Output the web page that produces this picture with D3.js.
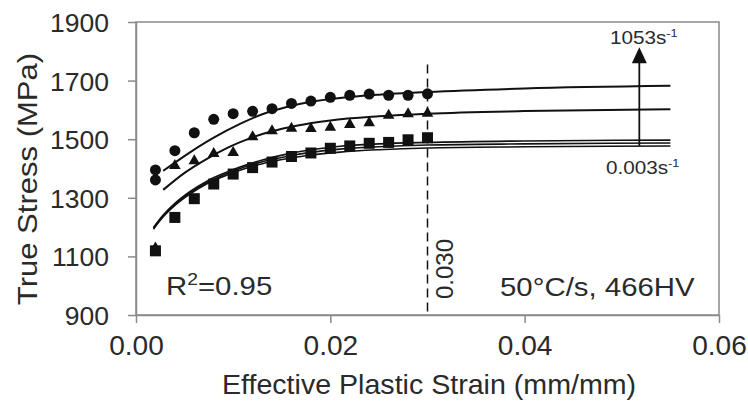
<!DOCTYPE html>
<html><head><meta charset="utf-8">
<script src="https://cdn.jsdelivr.net/npm/d3@7"></script>
<style>
html,body{margin:0;padding:0;background:#fff;}
svg text{font-family:"Liberation Sans",Arial,sans-serif;fill:#2a2a2a;}
</style></head>
<body><svg id="c" width="748" height="406"></svg>
<script>
// ---- data ----
const xTicks = [0, 0.02, 0.04, 0.06];
const xTickLabels = ["0.00", "0.02", "0.04", "0.06"];
const yTicks = [900, 1100, 1300, 1500, 1700, 1900];
const yTickLabels = ["900", "1100", "1300", "1500", "1700", "1900"];

const circleStrain = [0.002, 0.002, 0.004, 0.006, 0.008, 0.010, 0.012, 0.014, 0.016, 0.018, 0.020, 0.022, 0.024, 0.026, 0.028, 0.030];
const circleStress = [1395, 1361, 1461, 1522, 1568, 1587, 1595, 1604, 1622, 1630, 1643, 1650, 1654, 1650, 1650, 1655];

const triStrain = [0.004, 0.006, 0.008, 0.010, 0.012, 0.014, 0.016, 0.018, 0.020, 0.022, 0.024, 0.026, 0.028, 0.030];
const triStress = [1410, 1426, 1451, 1454, 1508, 1528, 1537, 1536, 1540, 1550, 1556, 1581, 1586, 1588];

const sqStrain = [0.002, 0.004, 0.006, 0.008, 0.010, 0.012, 0.014, 0.016, 0.018, 0.020, 0.022, 0.024, 0.026, 0.028, 0.030];
const sqStress = [1119, 1233, 1297, 1347, 1381, 1403, 1422, 1441, 1453, 1469, 1477, 1486, 1489, 1498, 1505];

const lowTriStrain = [0.002];
const lowTriStress = [1128];

const topFitStrain = [0.0028, 0.0056, 0.0080, 0.0107, 0.0130, 0.0155, 0.018, 0.021, 0.025, 0.030, 0.040, 0.055];
const topFitStress = [1392, 1456, 1505, 1552, 1585, 1610, 1628, 1641, 1652, 1661, 1673, 1682];
const midFitStrain = [0.0028, 0.0050, 0.0073, 0.0095, 0.0117, 0.0140, 0.0165, 0.020, 0.025, 0.030, 0.040, 0.055];
const midFitStress = [1327, 1385, 1433, 1472, 1503, 1527, 1546, 1564, 1578, 1587, 1596, 1602];
const lowFitStrain = [0.0018, 0.0028, 0.0040, 0.0055, 0.0073, 0.0090, 0.0107, 0.0130, 0.0155, 0.018, 0.021, 0.025, 0.030, 0.040, 0.055];
const lowFitAStress = [1199, 1241, 1281, 1320, 1357, 1383, 1405, 1429, 1449, 1464, 1476, 1484, 1489, 1494, 1497];
const lowFitBStress = [1196, 1238, 1278, 1316, 1352, 1378, 1400, 1423, 1441, 1455, 1466, 1474, 1480, 1484, 1487];
const lowFitCStress = [1193, 1235, 1274, 1312, 1348, 1373, 1394, 1416, 1433, 1446, 1456, 1464, 1470, 1474, 1477];

const arrowStrain = 0.0518;
const arrowFrom = 1477, arrowTo = 1814;
const refStrain = 0.030, refTop = 1755;

// ---- layout ----
const W = 748, H = 406;
const m = {left: 136, right: 29, top: 22, bottom: 91};
const svg = d3.select("#c");
const x = d3.scaleLinear().domain([0, 0.06]).range([m.left, W - m.right]);
const y = d3.scaleLinear().domain([900, 1900]).range([H - m.bottom, m.top]);
const SX = 1.13; // horizontal text stretch for annotations
const frameCol = "#8a8a8a";

// frame
svg.append("rect").attr("x", x(0)).attr("y", y(1900))
  .attr("width", x(0.06) - x(0)).attr("height", y(900) - y(1900))
  .attr("fill", "none").attr("stroke", frameCol).attr("stroke-width", 1.5);

// axes
const xAxis = svg.append("g").attr("transform", `translate(0,${y(900)})`)
  .call(d3.axisBottom(x).tickValues(xTicks).tickFormat((d, i) => xTickLabels[i]).tickSize(8).tickPadding(13).tickSizeOuter(0));
const yAxis = svg.append("g").attr("transform", `translate(${x(0)},0)`)
  .call(d3.axisLeft(y).tickValues(yTicks).tickFormat((d, i) => yTickLabels[i]).tickSize(8).tickPadding(19).tickSizeOuter(0));
[xAxis, yAxis].forEach(a => {
  a.select(".domain").attr("stroke", frameCol).attr("stroke-width", 1.5);
  a.selectAll(".tick line").attr("stroke", frameCol).attr("stroke-width", 1.5);
  a.selectAll(".tick text").attr("fill", "#2a2a2a")
    .style("font-family", '"Liberation Sans",Arial,sans-serif');
});
xAxis.selectAll(".tick text").style("font-size", "27px").attr("transform", "scale(1.04,1)");
yAxis.selectAll(".tick text").style("font-size", "26.5px").attr("dy", "0.36em");

// axis titles
svg.append("text").attr("transform", `translate(429,394) scale(1.04,1)`)
  .attr("text-anchor", "middle").style("font-size", "27.5px")
  .text("Effective Plastic Strain (mm/mm)");
svg.append("text")
  .attr("transform", `translate(37,179) rotate(-90) scale(1.15,1)`)
  .attr("text-anchor", "middle").style("font-size", "27px")
  .text("True Stress (MPa)");

// reference dashed line
svg.append("line").attr("x1", x(refStrain)).attr("x2", x(refStrain))
  .attr("y1", y(refTop)).attr("y2", y(900))
  .attr("stroke", "#111").attr("stroke-width", 1.5).attr("stroke-dasharray", "9,5");
svg.append("text").attr("transform", `translate(${x(refStrain) + 25},269) rotate(-90)`)
  .attr("text-anchor", "middle").style("font-size", "24px").text("0.030");

// fit lines
const line = d3.line().x(d => x(d[0])).y(d => y(d[1])).curve(d3.curveMonotoneX);
const fits = [
  [topFitStrain, topFitStress, 2],
  [midFitStrain, midFitStress, 2],
  [lowFitStrain, lowFitAStress, 1.6],
  [lowFitStrain, lowFitBStress, 1.6],
  [lowFitStrain, lowFitCStress, 1.6]
];
svg.append("g").selectAll("path").data(fits).join("path")
  .attr("d", f => line(f[0].map((s, i) => [s, f[1][i]])))
  .attr("fill", "none").attr("stroke", "#111").attr("stroke-width", f => f[2]);

// markers
const mk = svg.append("g").attr("fill", "#111");
mk.selectAll("circle").data(circleStrain.map((s, i) => [s, circleStress[i]])).join("circle")
  .attr("cx", d => x(d[0])).attr("cy", d => y(d[1])).attr("r", 5.5);
const triSym = d3.symbol().type(d3.symbolTriangle).size(58);
mk.selectAll("path.tri").data(triStrain.map((s, i) => [s, triStress[i]]).concat(lowTriStrain.map((s, i) => [s, lowTriStress[i]]))).join("path")
  .attr("class", "tri").attr("d", triSym).attr("transform", d => `translate(${x(d[0])},${y(d[1])})`);
mk.selectAll("rect").data(sqStrain.map((s, i) => [s, sqStress[i]])).join("rect")
  .attr("x", d => x(d[0]) - 5.5).attr("y", d => y(d[1]) - 5.5).attr("width", 11).attr("height", 11);

// rate arrow
svg.append("line").attr("x1", x(arrowStrain)).attr("x2", x(arrowStrain))
  .attr("y1", y(arrowFrom)).attr("y2", y(arrowTo) + 12)
  .attr("stroke", "#111").attr("stroke-width", 1.8);
svg.append("path")
  .attr("d", `M${x(arrowStrain)},${y(arrowTo)} L${x(arrowStrain) - 7.5},${y(arrowTo) + 16} L${x(arrowStrain) + 7.5},${y(arrowTo) + 16} Z`)
  .attr("fill", "#111");

function rateLabel(tx, ty, main) {
  const t = svg.append("text").attr("transform", `translate(${tx},${ty}) scale(1.15,1)`).style("font-size", "18px");
  t.append("tspan").text(main);
  t.append("tspan").attr("dy", -7).style("font-size", "11px").text("-1");
}
rateLabel(610, 44, "1053s");
rateLabel(606, 174, "0.003s");

// annotations
const r2 = svg.append("text").attr("transform", `translate(166,295) scale(${SX},1)`).style("font-size", "26px");
r2.append("tspan").text("R");
r2.append("tspan").attr("dy", -10).style("font-size", "17px").text("2");
r2.append("tspan").attr("dy", 10).text("=0.95");
svg.append("text").attr("transform", `translate(500,296) scale(${SX},1)`).style("font-size", "26px")
  .text("50°C/s, 466HV");
</script></body></html>
